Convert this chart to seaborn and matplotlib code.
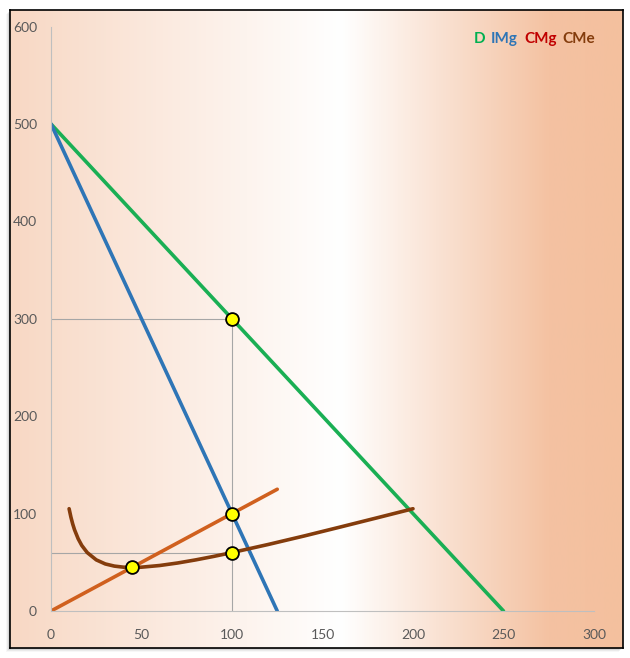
import numpy as np
import pandas as pd
import matplotlib.pyplot as plt
import seaborn as sns
from matplotlib.patches import Rectangle
from matplotlib.colors import LinearSegmentedColormap

# ---------------------------
# datos
# ---------------------------
q_d = [0, 250]
p_d = [500, 0]          # demanda D

q_img = [0, 125]
p_img = [500, 0]        # ingreso marginal IMg

q_cmg = [0, 125]
p_cmg = [0, 125]        # coste marginal CMg

q_cme = [10, 11, 12, 13, 15, 17, 20, 25, 30, 35, 40, 45, 50, 60, 70, 80, 90,
         100, 120, 140, 160, 180, 200]
p_cme = [105, 96.4, 89.3, 83.4, 74.2, 67.3, 60, 52.5, 48.3, 46.1, 45, 44.7, 45,
         46.7, 49.3, 52.5, 56.1, 60, 68.3, 77.1, 86.3, 95.6, 105]   # coste medio CMe

q_pts = [100, 100, 100, 45]
p_pts = [300, 100, 60, 45]

x_ticks = [0, 50, 100, 150, 200, 250, 300]
y_ticks = [0, 100, 200, 300, 400, 500, 600]
legend_labels = ['D', 'IMg', 'CMg', 'CMe']

col_d = '#1AAF54'
col_img = '#2E75B6'
col_cmg = '#D0601E'
col_cme = '#843C0C'
legend_colors = ['#00B050', '#2E75B6', '#C00000', '#843C0C']

sns.set_style("white")
plt.rcParams['font.family'] = ['Lato', 'DejaVu Sans']

W, H = 630, 658
fig = plt.figure(figsize=(W / 100, H / 100), dpi=100)

# ---------------------------
# marco, sombra y degradado de fondo
# ---------------------------
bx0, by0, bx1, by1 = 10, 10, 623, 648   # caja en pixeles (y desde arriba)
for i, a in enumerate([0.12, 0.08, 0.05, 0.03]):
    off = i + 1
    fig.patches.append(Rectangle(((bx0 - off) / W, (H - by1 - off) / H),
                                 (bx1 - bx0) / W, (by1 - by0) / H,
                                 transform=fig.transFigure, facecolor='black',
                                 alpha=a, edgecolor='none', zorder=-5))

bg = fig.add_axes([bx0 / W, (H - by1) / H, (bx1 - bx0) / W, (by1 - by0) / H], zorder=0)
cmap = LinearSegmentedColormap.from_list(
    'fondo', [(0.0, '#F8D8C4'), (0.54, '#FFFFFF'), (0.88, '#F4C2A2'), (1.0, '#F4C09E')])
grad = np.linspace(0, 1, 512).reshape(1, -1)
bg.imshow(grad, aspect='auto', cmap=cmap, extent=[0, 1, 0, 1])
bg.set_xticks([])
bg.set_yticks([])
for s in bg.spines.values():
    s.set_color('black')
    s.set_linewidth(1.2)

# ---------------------------
# grafico
# ---------------------------
ax = fig.add_axes([51 / W, (H - 611) / H, (594 - 51) / W, (611 - 26.6) / H], zorder=1)
ax.patch.set_visible(False)

# lineas guia
ax.plot([100, 100], [0, 300], color='#A6A6A6', lw=0.8, zorder=1)
ax.plot([0, 100], [300, 300], color='#A6A6A6', lw=0.8, zorder=1)
ax.plot([0, 100], [60, 60], color='#A6A6A6', lw=0.8, zorder=1)

lw = 2.6
sns.lineplot(x=q_d, y=p_d, ax=ax, color=col_d, lw=lw, sort=False, zorder=2)
sns.lineplot(x=q_img, y=p_img, ax=ax, color=col_img, lw=lw, sort=False, zorder=2)
sns.lineplot(x=q_cmg, y=p_cmg, ax=ax, color=col_cmg, lw=lw, sort=False, zorder=2)
sns.lineplot(x=q_cme, y=p_cme, ax=ax, color=col_cme, lw=lw, sort=False, zorder=2)
sns.scatterplot(x=q_pts, y=p_pts, ax=ax, s=85, color='#FFFF00', edgecolor='black',
                linewidth=1.3, zorder=3)

ax.set_xlim(0, 300)
ax.set_ylim(0, 600)
ax.set_xticks(x_ticks)
ax.set_yticks(y_ticks)
ax.tick_params(axis='both', length=0, labelsize=10, labelcolor='#595959')
ax.tick_params(axis='x', pad=13)
ax.tick_params(axis='y', pad=10)
ax.set_xlabel('')
ax.set_ylabel('')
for side in ['top', 'right']:
    ax.spines[side].set_visible(False)
for side in ['left', 'bottom']:
    ax.spines[side].set_color('#BFBFBF')
    ax.spines[side].set_linewidth(0.8)

# leyenda de texto
handles = [plt.Line2D([], [], color='none') for _ in legend_labels]
leg = ax.legend(handles, legend_labels, ncol=4, frameon=False, handlelength=0,
                handletextpad=0, columnspacing=0.4, loc='upper right',
                bbox_to_anchor=(609 / W, (H - 18) / H), bbox_transform=fig.transFigure,
                prop={'weight': 'bold', 'size': 11})
for t, c in zip(leg.get_texts(), legend_colors):
    t.set_color(c)

fig.savefig('out.png', dpi=100)
